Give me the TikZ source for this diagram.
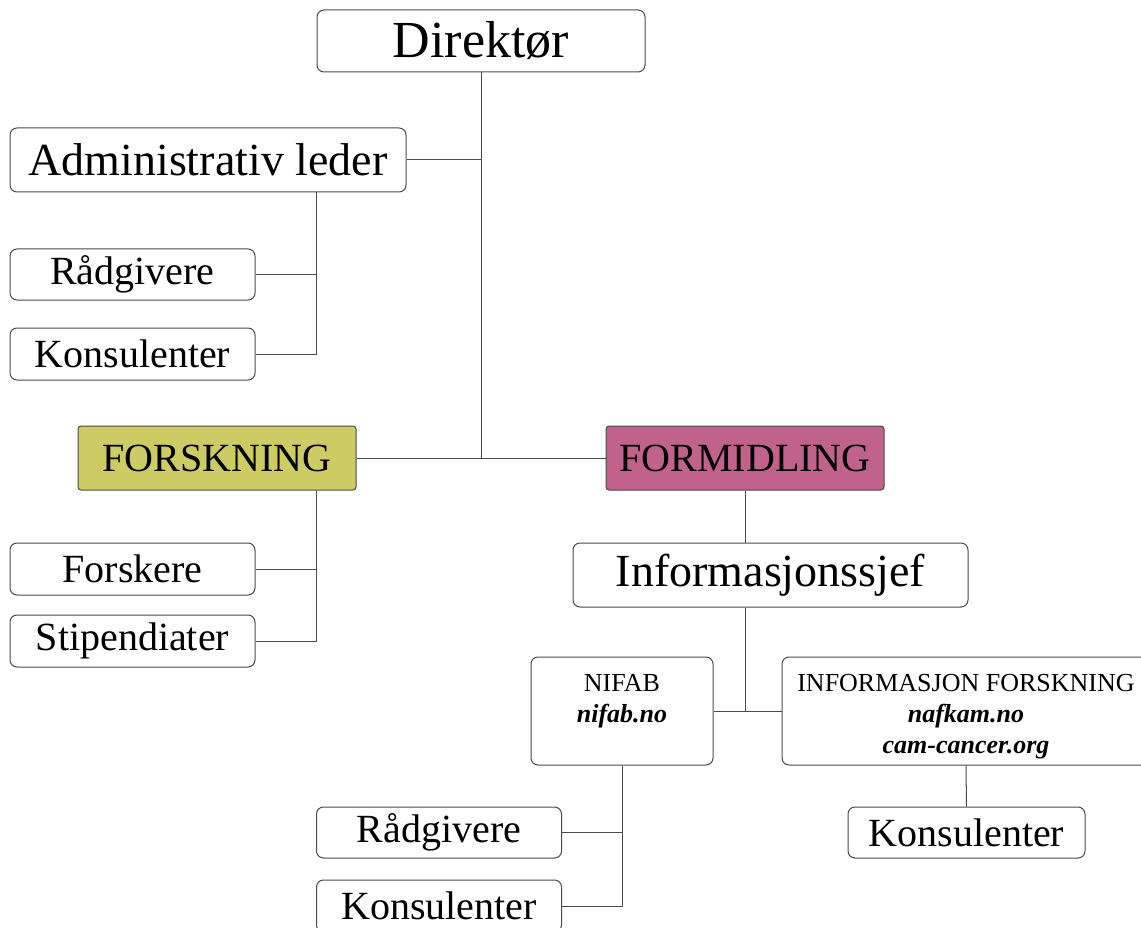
\documentclass[tikz,border=0pt]{standalone}
\usepackage{fontspec}
\setmainfont{Liberation Serif}
\usetikzlibrary{positioning}
\definecolor{forskcol}{HTML}{CDCC64}
\definecolor{formidcol}{HTML}{C0628A}
\definecolor{edgecol}{HTML}{4A4A4A}
\tikzset{
	box/.style={draw=edgecol,line width=1pt,rounded corners=7pt,fill=white,inner sep=0pt},
	bigbox/.style={box,font=\fontsize{46}{55}\selectfont},
	midbox/.style={box,font=\fontsize{40}{48}\selectfont},
	smalltxt/.style={inner sep=0pt,align=center,font=\fontsize{26}{31}\selectfont},
	link/.style={edgecol,line width=1pt}
}
\begin{document}
\begin{tikzpicture}[x=1pt,y=-1pt]
	\useasboundingbox (0,0) rectangle (1141,928);
	\clip (0,0) rectangle (1141,928);
	% top level
	\node[bigbox,font=\fontsize{52}{60}\selectfont,minimum width=328,minimum height=62] (dir) at (481,41) {Direktør};
	\node[bigbox,minimum width=396,minimum height=64] (adm) at (208,160) {Administrativ leder};
	\node[midbox,minimum width=245,minimum height=51] (raadA) at (132.5,274.5) {Rådgivere};
	\node[midbox,minimum width=245,minimum height=52] (konsA) at (132.5,354) {Konsulenter};
	% the two branches
	\node[midbox,fill=forskcol,rounded corners=3pt,minimum width=278,minimum height=64] (forsk) at (217,458) {FORSKNING};
	\node[midbox,fill=formidcol,rounded corners=3pt,minimum width=278,minimum height=64] (formid) at (745,458) {FORMIDLING};
	\node[midbox,minimum width=245,minimum height=52] (forskere) at (132.5,569) {Forskere};
	\node[midbox,minimum width=245,minimum height=52] (stip) at (132.5,641) {Stipendiater};
	\node[bigbox,minimum width=395,minimum height=64] (infosjef) at (770.5,575) {Informasjonssjef};
	% web boxes
	\node[box,minimum width=182,minimum height=108] (nifab) at (622,711) {};
	\node[smalltxt,below=18pt of nifab.north] (nifabtxt) {NIFAB\\ \textbf{\textit{nifab.no}}};
	\node[box,minimum width=368,minimum height=108] (infofor) at (966,711) {};
	\node[smalltxt,below=18pt of infofor.north] (infofortxt) {INFORMASJON FORSKNING\\ \textbf{\textit{nafkam.no}}\\ \textbf{\textit{cam-cancer.org}}};
	\node[midbox,minimum width=245,minimum height=51] (raadB) at (439,832.5) {Rådgivere};
	\node[midbox,minimum width=245,minimum height=52] (konsB) at (439,906) {Konsulenter};
	\node[midbox,minimum width=237,minimum height=51] (konsC) at (966.5,832.5) {Konsulenter};
	% connectors
	\coordinate (colA) at (316,0);
	\coordinate (jmain) at (dir.south |- forsk.east);
	\coordinate (jweb) at (formid.south |- nifab.east);
	\draw[link] (dir) -- (jmain) (forsk) -- (formid); % spine
	\draw[link] (adm.east) -- (adm.east -| dir.south);
	\draw[link] (adm.south -| colA) |- (konsA.east) (raadA.east) -- (raadA.east -| colA);
	\draw[link] (forsk.south -| colA) |- (stip.east) (forskere.east) -- (forskere.east -| colA);
	\draw[link] (formid.south) -- (formid.south |- infosjef.north) (formid.south |- infosjef.south) -- (jweb);
	\draw[link] (nifab) -- (infofor);
	\draw[link] (nifab.south) |- (konsB.east) (raadB.east) -- (raadB.east -| nifab.south);
	\draw[link] (infofor.south) -- (konsC.north);
\end{tikzpicture}
\end{document}
